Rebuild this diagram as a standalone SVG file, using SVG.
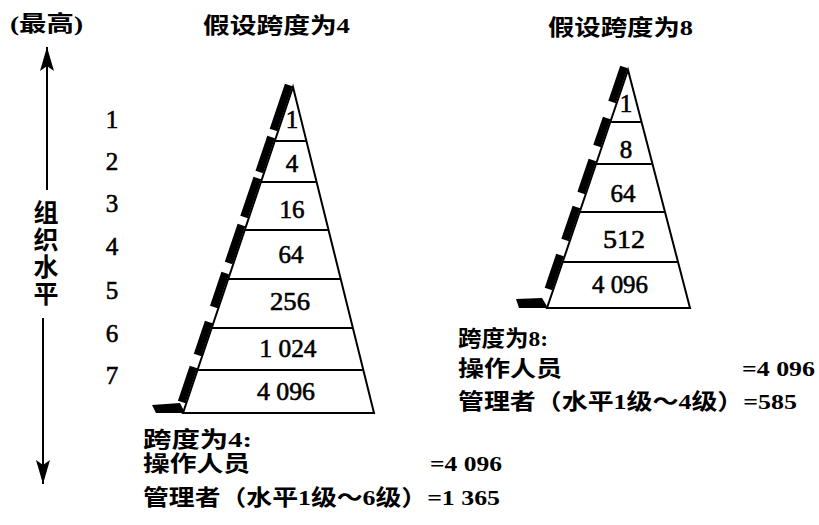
<svg xmlns="http://www.w3.org/2000/svg" width="819" height="525" viewBox="0 0 819 525">
<defs>
<style>
.bg{fill:#fff}
.tri{fill:#fff;stroke:#000;stroke-width:2;stroke-linejoin:miter}
.div{stroke:#000;stroke-width:2}
.stripe{stroke:#000;stroke-width:8;stroke-linecap:butt}
.foot{fill:#000}
.num{font-family:'Liberation Serif',serif;font-size:25px;fill:#000;text-anchor:middle;stroke:#000;stroke-width:0.6}
.cn{font-family:'Liberation Serif','Noto Sans CJK SC',serif;font-weight:bold;font-size:22px;fill:#000}
.cnv{font-family:'Noto Sans CJK SC',sans-serif;font-weight:bold;font-size:25px;fill:#000;writing-mode:vertical-rl;letter-spacing:2px}
.axis{stroke:#000;stroke-width:2;fill:none}
</style>
<marker id="ah" viewBox="0 0 24 14" refX="24" refY="7" markerWidth="24" markerHeight="14" markerUnits="userSpaceOnUse" orient="auto">
<path d="M0,0 L24,7 L0,14 L5,7 z" fill="#000"/>
</marker>
</defs>
<rect class="bg" x="0" y="0" width="819" height="525"/>

<g id="connectors">
<line class="axis" x1="47" y1="190" x2="47" y2="47" marker-end="url(#ah)"/>
<line class="axis" x1="43" y1="318" x2="43" y2="484" marker-end="url(#ah)"/>
</g>

<g id="axis-labels">
<text class="cn" x="10" y="31" textLength="73" lengthAdjust="spacingAndGlyphs">(最高)</text>
<text class="cnv" x="46" y="200">组织水平</text>
<text class="num" x="112" y="128">1</text>
<text class="num" x="112" y="170">2</text>
<text class="num" x="112" y="212">3</text>
<text class="num" x="112" y="255">4</text>
<text class="num" x="112" y="299">5</text>
<text class="num" x="112" y="342">6</text>
<text class="num" x="112" y="384">7</text>
</g>

<g id="pyramid-span4">
<text class="cn" x="203" y="33" textLength="147" lengthAdjust="spacingAndGlyphs">假设跨度为4</text>
<polygon class="tri" points="293,87 183,413 374,413"/>
<line class="div" x1="274.8" y1="141" x2="306.4" y2="141"/>
<line class="div" x1="260.9" y1="182" x2="316.6" y2="182"/>
<line class="div" x1="244.7" y1="230" x2="328.5" y2="230"/>
<line class="div" x1="228.2" y1="279" x2="340.7" y2="279"/>
<line class="div" x1="211.7" y1="328" x2="352.9" y2="328"/>
<line class="div" x1="197.5" y1="370" x2="363.3" y2="370"/>
<line class="stripe" x1="288.7" y1="85" x2="273.5" y2="130"/>
<line class="stripe" x1="271.1" y1="137" x2="259.3" y2="172"/>
<line class="stripe" x1="257.3" y1="178" x2="244.1" y2="217"/>
<line class="stripe" x1="241.4" y1="225" x2="228.6" y2="263"/>
<line class="stripe" x1="225.2" y1="273" x2="213.8" y2="307"/>
<line class="stripe" x1="208.7" y1="322" x2="197.6" y2="355"/>
<line class="stripe" x1="193.5" y1="367" x2="181.7" y2="402"/>
<polygon class="foot" points="152,405 180,403 185,413 156,413"/>
<text class="num" x="292" y="128">1</text>
<text class="num" x="292" y="172">4</text>
<text class="num" x="292" y="218">16</text>
<text class="num" x="291" y="263">64</text>
<text class="num" x="290" y="310" textLength="40" lengthAdjust="spacingAndGlyphs">256</text>
<text class="num" x="288" y="357" textLength="57" lengthAdjust="spacingAndGlyphs">1 024</text>
<text class="num" x="286" y="400" textLength="58" lengthAdjust="spacingAndGlyphs">4 096</text>
<text class="cn" x="143" y="447" textLength="109" lengthAdjust="spacingAndGlyphs">跨度为4:</text>
<text class="cn" x="143" y="471" textLength="107" lengthAdjust="spacingAndGlyphs">操作人员</text>
<text class="cn" x="430" y="471" textLength="72" lengthAdjust="spacingAndGlyphs">=4 096</text>
<text class="cn" x="143" y="505" textLength="357" lengthAdjust="spacingAndGlyphs">管理者（水平1级～6级）=1 365</text>
</g>

<g id="pyramid-span8">
<text class="cn" x="548" y="35" textLength="145" lengthAdjust="spacingAndGlyphs">假设跨度为8</text>
<polygon class="tri" points="628,70 547,308 690,308"/>
<line class="div" x1="610.3" y1="122" x2="641.5" y2="122"/>
<line class="div" x1="596" y1="164" x2="652.5" y2="164"/>
<line class="div" x1="579.7" y1="212" x2="665" y2="212"/>
<line class="div" x1="562.7" y1="262" x2="678" y2="262"/>
<line class="stripe" x1="624" y1="67" x2="612.1" y2="102"/>
<line class="stripe" x1="606.7" y1="118" x2="597.1" y2="146"/>
<line class="stripe" x1="592.4" y1="160" x2="581.2" y2="193"/>
<line class="stripe" x1="576.4" y1="207" x2="565.1" y2="240"/>
<line class="stripe" x1="560" y1="255" x2="548.5" y2="289"/>
<polygon class="foot" points="516,299 542,298 548,308 519,308"/>
<text class="num" x="626" y="112">1</text>
<text class="num" x="626" y="158">8</text>
<text class="num" x="623" y="202">64</text>
<text class="num" x="624" y="248" textLength="42" lengthAdjust="spacingAndGlyphs">512</text>
<text class="num" x="620" y="293" textLength="56" lengthAdjust="spacingAndGlyphs">4 096</text>
<text class="cn" x="458" y="346" textLength="90" lengthAdjust="spacingAndGlyphs">跨度为8:</text>
<text class="cn" x="458" y="376" textLength="104" lengthAdjust="spacingAndGlyphs">操作人员</text>
<text class="cn" x="742" y="376" textLength="73" lengthAdjust="spacingAndGlyphs">=4 096</text>
<text class="cn" x="458" y="409" textLength="339" lengthAdjust="spacingAndGlyphs">管理者（水平1级～4级）=585</text>
</g>
</svg>
